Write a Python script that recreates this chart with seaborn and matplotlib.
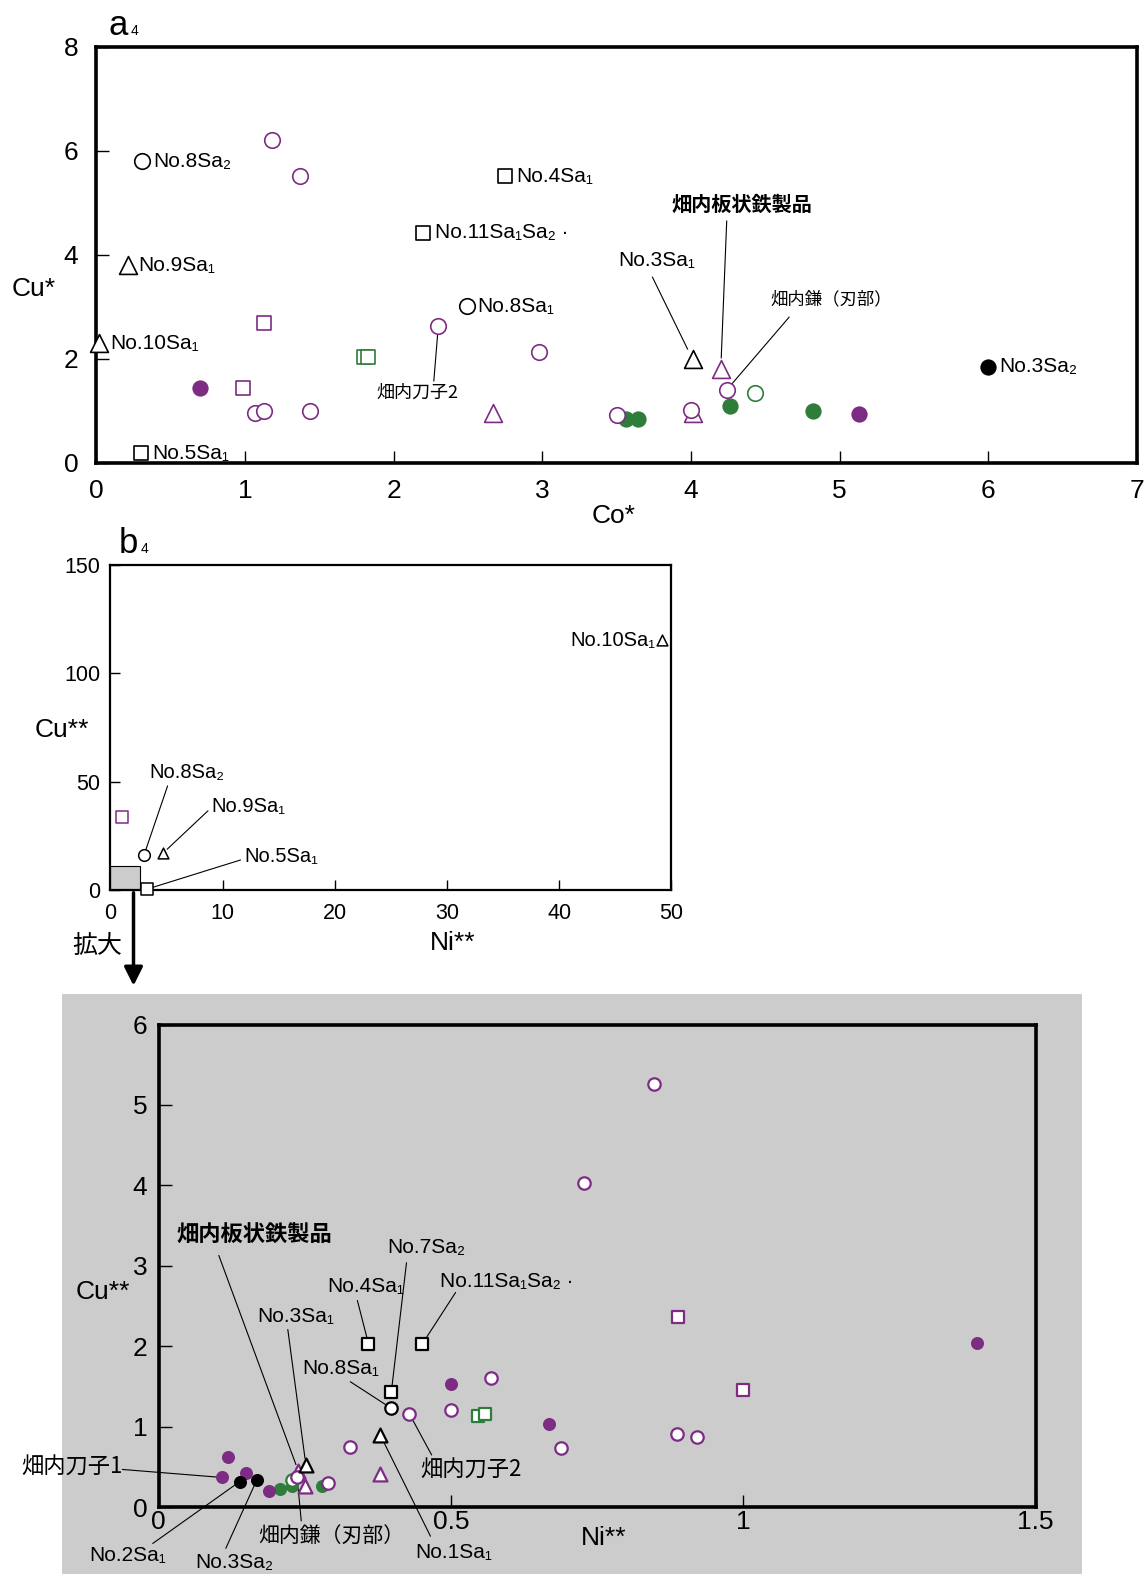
import matplotlib
matplotlib.use("Agg")
import matplotlib.pyplot as plt
import seaborn as sns
import pandas as pd
from matplotlib.patches import Rectangle, FancyArrowPatch

sns.set_style("ticks")
LAT = ["Liberation Sans", "DejaVu Sans", "Noto Sans CJK JP"]
CJK = ["Noto Sans CJK JP", "DejaVu Sans"]
plt.rcParams["font.family"] = LAT
plt.rcParams.update({"text.color": "black", "axes.labelcolor": "black",
                     "xtick.color": "black", "ytick.color": "black",
                     "axes.edgecolor": "black"})

PURPLE = "#7D2C84"
GREEN = "#2F7D3B"
BLACK = "#000000"

# ---------------- data: panel a4 (Co* vs Cu*) ----------------
a_kind = (["po"] * 10 + ["pf"] * 2 + ["ps"] * 2 + ["pt"] * 3 + ["go"] + ["gf"] * 4
          + ["gs"] * 2 + ["ko"] * 2 + ["kf"] + ["ks"] * 3 + ["kt"] * 3)
a_x = [1.18, 1.37, 1.07, 1.13, 1.44, 2.30, 2.98, 3.50, 4.00, 4.24,
       0.70, 5.13,
       1.13, 0.99,
       2.67, 4.01, 4.20,
       4.43,
       3.56, 3.64, 4.26, 4.82,
       1.80, 1.83,
       0.31, 2.49,
       6.00,
       2.75, 2.20, 0.30,
       0.21, 0.02, 4.01]
a_y = [6.21, 5.51, 0.96, 1.00, 1.00, 2.62, 2.13, 0.92, 1.01, 1.40,
       1.44, 0.93,
       2.68, 1.44,
       0.96, 0.95, 1.80,
       1.35,
       0.85, 0.85, 1.10, 1.00,
       2.03, 2.03,
       5.80, 3.01,
       1.85,
       5.51, 4.42, 0.18,
       3.80, 2.30, 1.99]
a_label = [""] * 24 + ["No.8Sa₂", "No.8Sa₁", "No.3Sa₂", "No.4Sa₁", "No.11Sa₁Sa₂ ·",
                       "No.5Sa₁", "No.9Sa₁", "No.10Sa₁", ""]

# ---------------- data: panel b4 (Ni** vs Cu**) ----------------
b_kind = ["ps", "ko", "kt", "kt", "ks"]
b_x = [1.0, 3.0, 4.7, 49.2, 3.3]
b_y = [33.8, 16.2, 17.1, 115.3, 0.5]

# ---------------- data: enlarged panel ----------------
c_kind = (["po"] * 11 + ["pf"] * 7 + ["ps"] * 2 + ["pt"] * 3 + ["go"] + ["gf"] * 3
          + ["gs"] * 2 + ["ko"] + ["kf"] * 2 + ["ks"] * 3 + ["kt"] * 2)
c_x = [0.848, 0.728, 0.887, 0.920, 0.688, 0.568, 0.500, 0.429, 0.328, 0.237, 0.289,
       1.399, 0.668, 0.500, 0.119, 0.109, 0.149, 0.188,
       0.889, 0.999,
       0.379, 0.239, 0.250,
       0.228,
       0.208, 0.228, 0.280,
       0.547, 0.558,
       0.398,
       0.139, 0.168,
       0.398, 0.359, 0.451,
       0.379, 0.252]
c_y = [5.26, 4.03, 0.91, 0.87, 0.74, 1.61, 1.21, 1.16, 0.75, 0.37, 0.30,
       2.04, 1.03, 1.53, 0.63, 0.37, 0.43, 0.20,
       2.37, 1.46,
       0.41, 0.45, 0.26,
       0.34,
       0.23, 0.26, 0.27,
       1.13, 1.16,
       1.23,
       0.32, 0.34,
       1.43, 2.03, 2.03,
       0.90, 0.52]

# marker styles per kind: marker, face, edge
STYLE = {
    "po": ("o", "white", PURPLE), "pf": ("o", PURPLE, PURPLE),
    "ps": ("s", "white", PURPLE), "pt": ("^", "white", PURPLE),
    "go": ("o", "white", GREEN), "gf": ("o", GREEN, GREEN),
    "gs": ("s", "white", GREEN),
    "ko": ("o", "white", BLACK), "kf": ("o", BLACK, BLACK),
    "ks": ("s", "white", BLACK), "kt": ("^", "white", BLACK),
}
ORDER = ["gf", "go", "pf", "pt", "po", "ps", "gs", "ko", "kf", "ks", "kt"]


def draw_points(ax, xs, ys, kinds, sizes, lw):
    df = pd.DataFrame({"x": xs, "y": ys, "kind": kinds})
    for k in ORDER:
        sub = df[df["kind"] == k]
        if sub.empty:
            continue
        m, fc, ec = STYLE[k]
        filled = fc != "white"
        sns.scatterplot(data=sub, x="x", y="y", marker=m, s=sizes[m] * (1.1 if filled else 1.0),
                        facecolor=fc, edgecolor=ec, linewidth=0 if filled else lw,
                        ax=ax, clip_on=False, zorder=4, legend=False)


def callout(ax, text, target, txt_xy, start_xy, shrink=5, fs=15, bold=False, cjk=False):
    ax.annotate("", xy=target, xytext=start_xy, annotation_clip=False,
                arrowprops=dict(arrowstyle="-", color="black", lw=0.8,
                                shrinkA=0, shrinkB=shrink), zorder=3)
    ax.text(txt_xy[0], txt_xy[1], text, ha="center", va="center", fontsize=fs,
            fontweight="bold" if bold else "normal", family=CJK if cjk else LAT,
            clip_on=False, zorder=5)


def panel_tag(x, y, letter):
    fig.text(x, y, letter, fontsize=25, ha="center", va="baseline")
    fig.text(x + 0.0105, y, "4", fontsize=10, ha="left", va="baseline")


fig = plt.figure(figsize=(11.45, 15.74), dpi=100)

# ======================= panel a4 =======================
ax1 = fig.add_axes([0.0841, 0.706, 0.909, 0.2644])
draw_points(ax1, a_x, a_y, a_kind, {"o": 125, "s": 90, "^": 165}, 1.2)
ax1.set_xlim(0, 7)
ax1.set_ylim(0, 8)
ax1.set_xticks(range(0, 8))
ax1.set_yticks([0, 2, 4, 6, 8])
ax1.tick_params(direction="in", length=9, width=1, labelsize=19)
ax1.tick_params(axis="x", pad=12)
ax1.tick_params(axis="y", pad=13)
for s in ax1.spines.values():
    s.set_linewidth(2.6)
    s.set_visible(True)
ax1.set_xlabel("Co*", fontsize=19, va="center")
ax1.set_ylabel("Cu*", fontsize=19, rotation=0, ha="center", va="center")
ax1.xaxis.set_label_coords(0.497, -0.128)
ax1.yaxis.set_label_coords(-0.060, 0.417)
for x, y, t in zip(a_x, a_y, a_label):
    if t:
        ax1.annotate(t, xy=(x, y), xytext=(8, 0), textcoords="offset points",
                     ha="left", va="center", fontsize=15, annotation_clip=False)
callout(ax1, "No.3Sa₁", (a_x[32], a_y[32]), (3.77, 3.88), (3.74, 3.57), shrink=8)
callout(ax1, "畑内板状鉄製品", (a_x[16], a_y[16]), (4.34, 4.96), (4.24, 4.65),
        shrink=8, fs=14.5, bold=True, cjk=True)
callout(ax1, "畑内鎌（刃部）", (a_x[9], a_y[9]), (4.94, 3.15), (4.66, 2.80),
        shrink=5, fs=12.5, cjk=True)
callout(ax1, "畑内刀子2", (a_x[5], a_y[5]), (2.16, 1.35), (2.27, 1.57),
        shrink=6, fs=13, cjk=True)
panel_tag(0.1035, 0.978, "a")

# ======================= panel b4 =======================
ax2 = fig.add_axes([0.0964, 0.4345, 0.49, 0.2065])
draw_points(ax2, b_x, b_y, b_kind, {"o": 70, "s": 70, "^": 60}, 1.1)
ax2.add_patch(Rectangle((0, 0), 2.6, 11, facecolor="#cccccc", edgecolor="black",
                        lw=0.8, zorder=2, clip_on=False))
ax2.set_xlim(0, 50)
ax2.set_ylim(0, 150)
ax2.set_xticks([0, 10, 20, 30, 40, 50])
ax2.set_yticks([0, 50, 100, 150])
ax2.tick_params(direction="in", length=7, width=1, labelsize=15.5)
ax2.tick_params(axis="x", pad=9)
ax2.tick_params(axis="y", pad=7)
for s in ax2.spines.values():
    s.set_linewidth(1.6)
    s.set_visible(True)
ax2.set_xlabel("Ni**", fontsize=19, va="center")
ax2.set_ylabel("Cu**", fontsize=19, rotation=0, ha="center", va="center")
ax2.xaxis.set_label_coords(0.61, -0.164)
ax2.yaxis.set_label_coords(-0.086, 0.494)
ax2.annotate("No.10Sa₁", xy=(b_x[3], b_y[3]), xytext=(-5, 0), textcoords="offset points",
             ha="right", va="center", fontsize=14.5, annotation_clip=False)
callout(ax2, "No.8Sa₂", (b_x[1], b_y[1]), (6.8, 54.2), (5.1, 48.1), shrink=4, fs=14.5)
callout(ax2, "No.9Sa₁", (b_x[2], b_y[2]), (12.3, 38.4), (8.7, 36.6), shrink=4, fs=14.5)
callout(ax2, "No.5Sa₁", (b_x[4], b_y[4]), (15.2, 15.3), (11.6, 13.9), shrink=3, fs=14.5)
panel_tag(0.1125, 0.6485, "b")

# arrow + 拡大
fig.add_artist(FancyArrowPatch((0.1166, 0.4346), (0.1166, 0.372), transform=fig.transFigure,
                               arrowstyle="-|>", mutation_scale=28, lw=2.5, color="black"))
fig.text(0.085, 0.3988, "拡大", fontsize=18, ha="center", va="center", family=CJK)

# ======================= enlarged panel =======================
fig.add_artist(Rectangle((0.0543, 0), 0.8904, 0.3688, transform=fig.transFigure,
                         facecolor="#cccccc", edgecolor="none", zorder=0))
ax3 = fig.add_axes([0.1385, 0.0424, 0.766, 0.3067])
ax3.set_facecolor("none")
draw_points(ax3, c_x, c_y, c_kind, {"o": 80, "s": 80, "^": 100}, 1.6)
ax3.set_xlim(0, 1.5)
ax3.set_ylim(0, 6)
ax3.set_xticks([0, 0.5, 1, 1.5])
ax3.set_xticklabels(["0", "0.5", "1", "1.5"])
ax3.set_yticks([0, 1, 2, 3, 4, 5, 6])
ax3.tick_params(direction="in", length=9, width=1, labelsize=19)
ax3.tick_params(axis="x", pad=2)
ax3.tick_params(axis="y", pad=8)
for s in ax3.spines.values():
    s.set_linewidth(2.6)
    s.set_visible(True)
ax3.set_xlabel("Ni**", fontsize=19, va="center")
ax3.set_ylabel("Cu**", fontsize=19, rotation=0, ha="center", va="center")
ax3.xaxis.set_label_coords(0.507, -0.064)
ax3.yaxis.set_label_coords(-0.064, 0.445)

callout(ax3, "畑内板状鉄製品", (c_x[21], c_y[21]), (0.163, 3.38), (0.103, 3.13),
        shrink=5, fs=16, bold=True, cjk=True)
callout(ax3, "No.7Sa₂", (c_x[32], c_y[32]), (0.458, 3.23), (0.424, 3.04), shrink=4)
callout(ax3, "No.4Sa₁", (c_x[33], c_y[33]), (0.355, 2.74), (0.340, 2.57), shrink=4)
callout(ax3, "No.11Sa₁Sa₂ ·", (c_x[34], c_y[34]), (0.596, 2.81), (0.508, 2.67), shrink=4)
callout(ax3, "No.3Sa₁", (c_x[36], c_y[36]), (0.235, 2.37), (0.221, 2.21), shrink=5)
callout(ax3, "No.8Sa₁", (c_x[29], c_y[29]), (0.311, 1.72), (0.328, 1.56), shrink=4)
callout(ax3, "畑内刀子2", (c_x[7], c_y[7]), (0.534, 0.46), (0.467, 0.65),
        shrink=4, fs=16, cjk=True)
callout(ax3, "畑内刀子1", (c_x[15], c_y[15]), (-0.149, 0.50), (-0.062, 0.47),
        shrink=4, fs=16, cjk=True)
callout(ax3, "No.2Sa₁", (c_x[30], c_y[30]), (-0.053, -0.60), (-0.010, -0.45), shrink=3)
callout(ax3, "No.3Sa₂", (c_x[31], c_y[31]), (0.129, -0.69), (0.115, -0.51), shrink=3)
callout(ax3, "畑内鎌（刃部）", (c_x[9], c_y[9]), (0.295, -0.35), (0.244, -0.17),
        shrink=3, fs=15, cjk=True)
callout(ax3, "No.1Sa₁", (c_x[35], c_y[35]), (0.505, -0.56), (0.465, -0.36), shrink=5)

fig.savefig("out.png", dpi=100)
